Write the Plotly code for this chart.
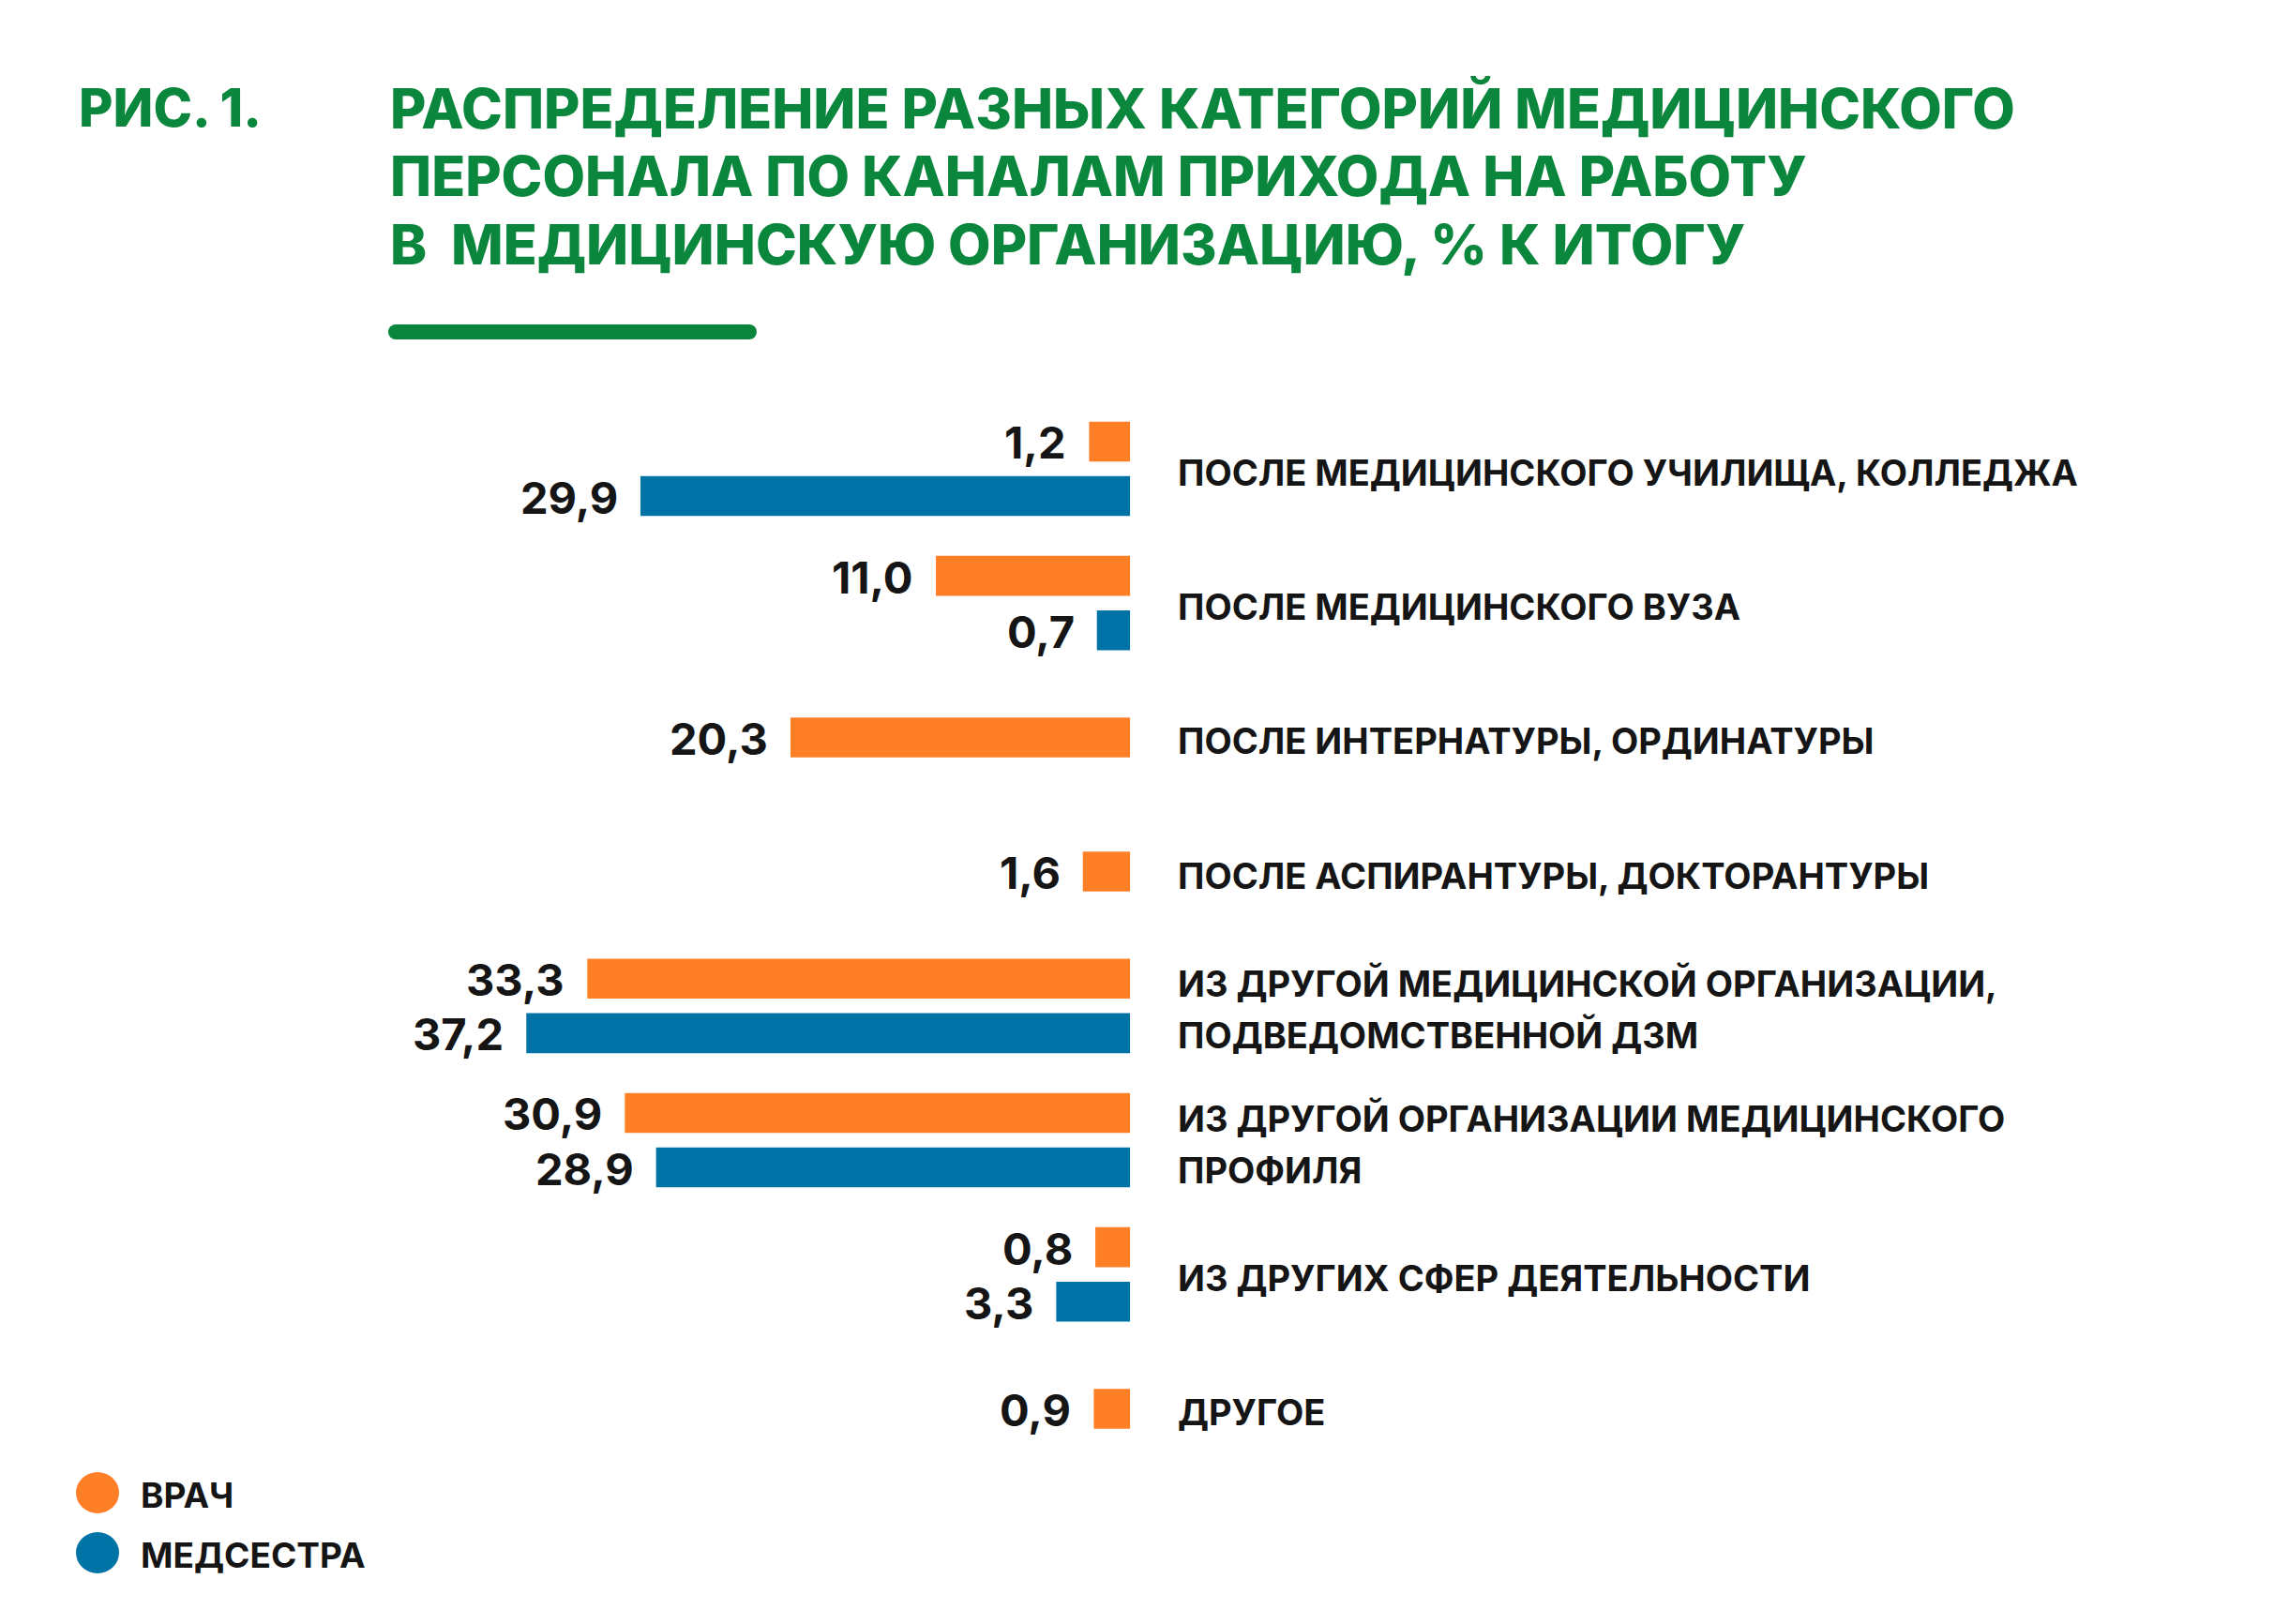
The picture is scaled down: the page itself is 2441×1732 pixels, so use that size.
import plotly.graph_objects as go

# --- data ---
CATEGORIES = [
    "ПОСЛЕ МЕДИЦИНСКОГО УЧИЛИЩА, КОЛЛЕДЖА",
    "ПОСЛЕ МЕДИЦИНСКОГО ВУЗА",
    "ПОСЛЕ ИНТЕРНАТУРЫ, ОРДИНАТУРЫ",
    "ПОСЛЕ АСПИРАНТУРЫ, ДОКТОРАНТУРЫ",
    "ИЗ ДРУГОЙ МЕДИЦИНСКОЙ ОРГАНИЗАЦИИ,<br>ПОДВЕДОМСТВЕННОЙ ДЗМ",
    "ИЗ ДРУГОЙ ОРГАНИЗАЦИИ МЕДИЦИНСКОГО<br>ПРОФИЛЯ",
    "ИЗ ДРУГИХ СФЕР ДЕЯТЕЛЬНОСТИ",
    "ДРУГОЕ",
]
DOCTOR = [1.2, 11.0, 20.3, 1.6, 33.3, 30.9, 0.8, 0.9]
NURSE = [29.9, 0.7, None, None, 37.2, 28.9, 3.3, None]
SERIES_NAMES = ["ВРАЧ", "МЕДСЕСТРА"]

FIG_LABEL = "РИС. 1."
TITLE_LINES = [
    "РАСПРЕДЕЛЕНИЕ РАЗНЫХ КАТЕГОРИЙ МЕДИЦИНСКОГО",
    "ПЕРСОНАЛА ПО КАНАЛАМ ПРИХОДА НА РАБОТУ",
    "В  МЕДИЦИНСКУЮ ОРГАНИЗАЦИЮ, % К ИТОГУ",
]

# --- style ---
W, H = 2441, 1732
PAD = 8  # page body margin, shift everything back by it
ORANGE = "#FF7F27"
BLUE = "#0073A6"
GREEN = "#0B863D"
INK = "#151515"
FONT = "Inter"
BAR_W = 0.297
OFFSET = 0.203
BAR_BASE = -1.42  # bars start a bit right of zero, like in the original layout
LABEL_SIZE = 38
VALUE_SIZE = 47
TITLE_SIZE = 59


def px(x):
    return (x - PAD) / W


def py(y):
    return 1 - (y - PAD) / H


def fmt(v):
    return f"{v:.1f}".replace(".", ",")


def positions():
    doc_y, nurse_y = [], []
    for i, (d, n) in enumerate(zip(DOCTOR, NURSE)):
        both = d is not None and n is not None
        doc_y.append(i - OFFSET if both else i)
        nurse_y.append(i + OFFSET if both else i)
    return doc_y, nurse_y


doc_y, nurse_y = positions()

fig = go.Figure()
for name, vals, ys, color in [
    (SERIES_NAMES[0], DOCTOR, doc_y, ORANGE),
    (SERIES_NAMES[1], NURSE, nurse_y, BLUE),
]:
    xs = [v for v in vals if v is not None]
    yy = [y for v, y in zip(vals, ys) if v is not None]
    fig.add_trace(
        go.Bar(
            x=[v - BAR_BASE for v in xs],
            base=BAR_BASE,
            y=yy,
            orientation="h",
            width=BAR_W,
            marker={"color": color, "line": {"width": 0}},
            name=name,
            showlegend=False,
            hoverinfo="skip",
        )
    )
    for v, y in zip(xs, yy):
        fig.add_annotation(
            x=v, y=y, xref="x", yref="y", text=fmt(v),
            xanchor="right", yanchor="middle", xshift=-22, yshift=-1,
            showarrow=False,
            font={"family": FONT, "size": VALUE_SIZE, "color": INK, "weight": 700},
        )

# category labels, one annotation per line to get the wide line spacing
LINE_GAP = 55
for i, cat in enumerate(CATEGORIES):
    lines = cat.split("<br>")
    for j, line in enumerate(lines):
        shift = (j - (len(lines) - 1) / 2) * LINE_GAP
        fig.add_annotation(
            x=px(1254), y=i, xref="paper", yref="y", text=line,
            xanchor="left", yanchor="middle", yshift=-4 - shift, showarrow=False,
            font={"family": FONT, "size": LABEL_SIZE, "color": INK, "weight": 700},
        )

# title block
fig.add_annotation(
    x=px(82), y=py(115), xref="paper", yref="paper", text=FIG_LABEL,
    xanchor="left", yanchor="middle", showarrow=False,
    font={"family": FONT, "size": 56, "color": GREEN, "weight": 800},
)
for k, line in enumerate(TITLE_LINES):
    fig.add_annotation(
        x=px(414), y=py(115 + 72.5 * k), xref="paper", yref="paper",
        text=line, xanchor="left", yanchor="middle", showarrow=False,
        font={"family": FONT, "size": TITLE_SIZE, "color": GREEN, "weight": 800},
    )

# green underline with rounded ends
r = 8
fig.add_shape(type="rect", xref="paper", yref="paper",
              x0=px(414 + r), x1=px(807 - r), y0=py(354 + r), y1=py(354 - r),
              fillcolor=GREEN, line={"width": 0})
for cx in (414 + r, 807 - r):
    fig.add_shape(type="circle", xref="paper", yref="paper",
                  x0=px(cx - r), x1=px(cx + r), y0=py(354 + r), y1=py(354 - r),
                  fillcolor=GREEN, line={"width": 0})

# legend drawn by hand (big round swatches)
for name, color, cy in [(SERIES_NAMES[0], ORANGE, 1592), (SERIES_NAMES[1], BLUE, 1656)]:
    fig.add_shape(type="circle", xref="paper", yref="paper",
                  x0=px(104 - 23), x1=px(104 + 23), y0=py(cy + 22), y1=py(cy - 22),
                  fillcolor=color, line={"width": 0})
    fig.add_annotation(
        x=px(148), y=py(cy), xref="paper", yref="paper", text=name,
        xanchor="left", yanchor="middle", yshift=-2, showarrow=False,
        font={"family": FONT, "size": 37, "color": INK, "weight": 700},
    )

# axes: 1 unit = 16.67 px, zero at x=1181 px; group spacing 143.2 px
px_per_unit = 16.67
zero_px = 1181.4 - PAD
group_px = 143.2
first_px = 500 - PAD
fig.update_xaxes(
    range=[zero_px / px_per_unit, -(W - zero_px) / px_per_unit],
    visible=False, fixedrange=True,
)
fig.update_yaxes(
    range=[(H - first_px) / group_px, -first_px / group_px],
    visible=False, fixedrange=True,
)
fig.update_layout(
    width=W, height=H,
    margin={"l": 0, "r": 0, "t": 0, "b": 0},
    paper_bgcolor="white", plot_bgcolor="white",
    barmode="overlay", showlegend=False,
)
fig.write_html("out.html")
